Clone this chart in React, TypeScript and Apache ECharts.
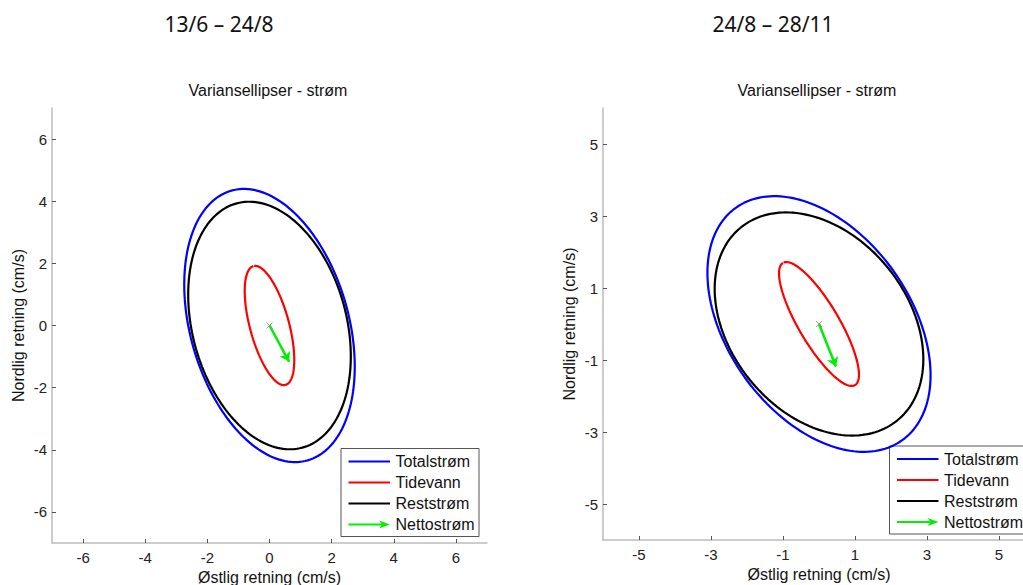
import React, { useEffect, useRef } from "react";
import * as echarts from "echarts";

// Period headings and panel title
const periods = ["13/6 – 24/8", "24/8 – 28/11"];
const panelTitle = "Variansellipser - strøm";
const xName = "Østlig retning (cm/s)";
const yName = "Nordlig retning (cm/s)";
const seriesNames = ["Totalstrøm", "Tidevann", "Reststrøm", "Nettostrøm"];

// Variance ellipses: [semi-major, semi-minor, major-axis angle in degrees]
const total1 = [4.51, 2.55, 105.8];
const tide1 = [1.98, 0.63, 105.1];
const rest1 = [4.07, 2.48, 105.0];
const net1 = [0.63, -1.16]; // net current vector (east, north)

const total2 = [3.97, 2.54, 125.6];
const tide2 = [1.97, 0.56, 120.5];
const rest2 = [3.45, 2.47, 129.0];
const net2 = [0.47, -1.18];

// Axis ranges and tick labels
const range1 = [-7, 7];
const ticks1 = [-6, -4, -2, 0, 2, 4, 6];
const range2 = [-6, 6];
const ticks2 = [-5, -3, -1, 1, 3, 5];

const colors = ["#0000ff", "#ff0000", "#000000", "#00ee00"];

function ellipsePoints(p: number[]) {
  const [a, b, deg] = p;
  const th = (deg * Math.PI) / 180;
  const pts: number[][] = [];
  for (let k = 0; k <= 180; k++) {
    const t = (k / 180) * 2 * Math.PI;
    const ct = Math.cos(t);
    const st = Math.sin(t);
    pts.push([
      a * ct * Math.cos(th) - b * st * Math.sin(th),
      a * ct * Math.sin(th) + b * st * Math.cos(th),
    ]);
  }
  return pts;
}

const FONT = "'Liberation Sans', Arial, sans-serif";

function axisPair(idx: number, range: number[], ticks: number[], xGap: number, yGap: number) {
  const common = {
    gridIndex: idx,
    type: "value",
    min: range[0],
    max: range[1],
    nameLocation: "middle",
    nameTextStyle: { fontFamily: FONT, fontSize: 16, color: "#111" },
    axisLine: { show: true, onZero: false, lineStyle: { color: "#bdbdbd", width: 1.5 } },
    axisTick: { show: true, inside: true, length: 4, customValues: ticks, lineStyle: { color: "#555", width: 1 } },
    axisLabel: { customValues: ticks, fontFamily: FONT, fontSize: 15, color: "#222" },
    splitLine: { show: false },
  };
  const x = { ...common, name: xName, nameGap: xGap, axisLabel: { ...common.axisLabel, margin: 7 } };
  const y = { ...common, name: yName, nameGap: yGap, axisLabel: { ...common.axisLabel, margin: 5 } };
  return { x, y };
}

function panelSeries(idx: number, total: number[], tide: number[], rest: number[], net: number[]) {
  const ell = [total, tide, rest];
  const out: any[] = ell.map((p, i) => ({
    name: seriesNames[i],
    type: "line",
    xAxisIndex: idx,
    yAxisIndex: idx,
    data: ellipsePoints(p),
    showSymbol: false,
    symbol: "none",
    clip: false,
    lineStyle: { color: colors[i], width: 2.2 },
    itemStyle: { color: colors[i] },
    z: 2 + i,
  }));
  out.push({
    name: seriesNames[3],
    type: "lines",
    coordinateSystem: "cartesian2d",
    xAxisIndex: idx,
    yAxisIndex: idx,
    symbol: ["none", "arrow"],
    symbolSize: 9,
    lineStyle: { color: colors[3], width: 2.5, opacity: 1 },
    data: [{ coords: [[0, 0], net] }],
    z: 6,
  });
  out.push({
    type: "scatter",
    xAxisIndex: idx,
    yAxisIndex: idx,
    symbol: "path://M0,0L10,10M10,0L0,10",
    symbolSize: 6,
    itemStyle: { color: "transparent", borderColor: "#888", borderWidth: 1 },
    data: [[0, 0]],
    z: 7,
    silent: true,
  });
  return out;
}

function legendGraphic(left: number, top: number, width: number) {
  const rows = [13, 34, 55, 76];
  const children: any[] = [
    {
      type: "rect",
      shape: { x: 0, y: 0, width, height: 88 },
      style: { fill: "#fff", stroke: "#555", lineWidth: 1 },
    },
  ];
  seriesNames.forEach((n, i) => {
    const y = rows[i];
    const isArrow = i === 3;
    children.push({
      type: "line",
      shape: { x1: 7.5, y1: y, x2: isArrow ? 41 : 49, y2: y },
      style: { stroke: colors[i], lineWidth: 2.2 },
    });
    if (isArrow) {
      children.push({
        type: "polygon",
        shape: { points: [[49, y], [38, y - 4], [41, y], [38, y + 4]] },
        style: { fill: colors[i] },
      });
    }
    children.push({
      type: "text",
      x: 54.5,
      y,
      style: {
        text: n,
        fontSize: 16,
        fontFamily: FONT,
        fill: "#111",
        verticalAlign: "middle",
        textVerticalAlign: "middle",
        align: "left",
        textAlign: "left",
      },
    });
  });
  return { type: "group", x: left, y: top, z: 100, children };
}

function centerText(text: string, x: number, y: number, size: number, family: string) {
  return {
    type: "text",
    x,
    y,
    style: {
      text,
      fontSize: size,
      fontFamily: family,
      fill: "#111",
      align: "center",
      textAlign: "center",
      verticalAlign: "middle",
      textVerticalAlign: "middle",
    },
  };
}

export default function App() {
  const ref = useRef<HTMLDivElement>(null);
  useEffect(() => {
    if (!ref.current) return;
    const chart = echarts.init(ref.current, undefined, { renderer: "svg" });
    const a1 = axisPair(0, range1, ticks1, 24, 26);
    const a2 = axisPair(1, range2, ticks2, 26, 26);
    chart.setOption({
      animation: false,
      backgroundColor: "#fff",
      grid: [
        { left: 52, top: 108, width: 435, height: 435, containLabel: false, outerBoundsMode: "none" },
        { left: 603, top: 108, width: 432, height: 432, containLabel: false, outerBoundsMode: "none" },
      ],
      xAxis: [a1.x, a2.x],
      yAxis: [a1.y, a2.y],
      series: [
        ...panelSeries(0, total1, tide1, rest1, net1),
        ...panelSeries(1, total2, tide2, rest2, net2),
      ],
      graphic: [
        centerText(periods[0], 219, 24, 21, "'Noto Sans', sans-serif"),
        centerText(periods[1], 773, 24, 21, "'Noto Sans', sans-serif"),
        centerText(panelTitle, 268, 90, 16, FONT),
        centerText(panelTitle, 817, 90, 16, FONT),
        legendGraphic(341, 448.5, 138),
        legendGraphic(889.5, 446, 150),
      ],
    });
    return () => chart.dispose();
  }, []);
  return (
    <div
      ref={ref}
      style={{ position: "fixed", left: 0, top: 0, width: 1023, height: 585, background: "#fff" }}
    />
  );
}
